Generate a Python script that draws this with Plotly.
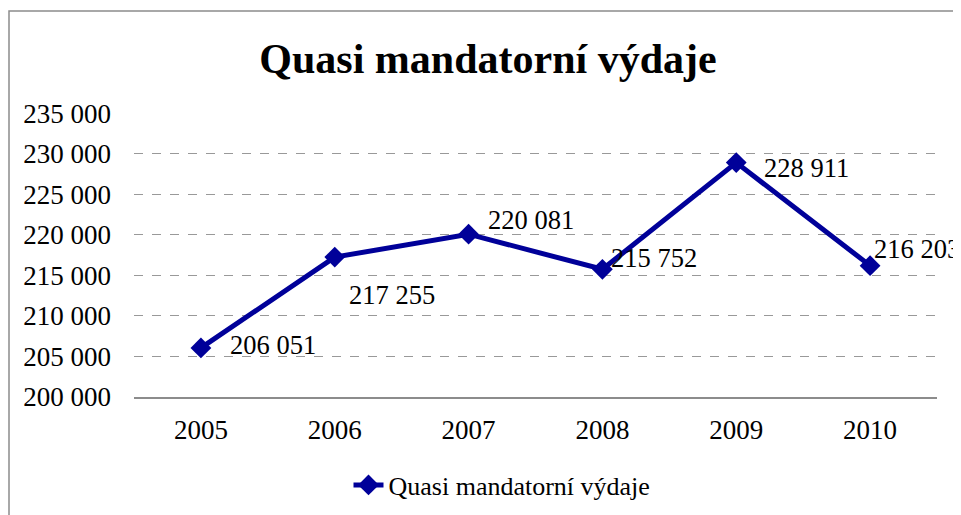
import plotly.graph_objects as go

years = ["2005", "2006", "2007", "2008", "2009", "2010"]
values = [206051, 217255, 220081, 215752, 228911, 216203]
labels = ["206 051", "217 255", "220 081", "215 752", "228 911", "216 203"]
series_name = "Quasi mandatorní výdaje"
title_text = "Quasi mandatorní výdaje"

# label offsets (px) – styling only
label_dx = [27, 12, 17, 7, 26, 2]
label_dy = [3, -38, 14, 11, -5, 17]

FONT = "Liberation Serif"
NAVY = "#000099"
OFF = 8  # page body margin
W, H = 961 - OFF, 515 - OFF
PL, PR, PT, PB = 134 - OFF, 937 - OFF, 113 - OFF, 397 - OFF

fig = go.Figure()
fig.add_trace(go.Scatter(
    x=years, y=values, mode="lines+markers", name=series_name,
    line=dict(color=NAVY, width=5),
    marker=dict(symbol="diamond", size=16, color=NAVY),
))

for i, (y, t, dx, dy) in enumerate(zip(values, labels, label_dx, label_dy)):
    fig.add_annotation(x=i, y=y, text=t, showarrow=False, xanchor="left",
                       yanchor="middle", xshift=dx, yshift=dy,
                       font=dict(family=FONT, size=26.5, color="black"))

pw, ph = PR - PL, PB - PT
# chart border
fig.add_shape(type="rect", xref="paper", yref="paper",
              x0=(1 - PL) / pw, x1=1.2, y0=-0.6, y1=(PB - 3) / ph,
              line=dict(color="#8c8c8c", width=1.5), layer="below")

fig.update_layout(
    width=W, height=H,
    margin=dict(l=PL, r=W - PR, t=PT, b=H - PB, autoexpand=False),
    paper_bgcolor="white", plot_bgcolor="white",
    separators=", ",
    title=dict(text="<b>" + title_text + "</b>", x=(488 - OFF) / W, xanchor="center",
               y=1 - (58 - OFF) / H, yanchor="middle", yref="container",
               font=dict(family=FONT, size=42, color="black")),
    font=dict(family=FONT, color="black"),
    showlegend=True,
    legend=dict(orientation="h", x=(502 - 134) / pw, xanchor="center",
                y=(397 - 485) / ph, yanchor="middle",
                font=dict(family=FONT, size=26, color="black")),
    xaxis=dict(type="category", range=[-0.5, 5.5], showgrid=False, showline=True,
               linecolor="#8c8c8c", linewidth=1.5, ticks="",
               tickfont=dict(family=FONT, size=27, color="black"),
               ticklabelstandoff=8),
    yaxis=dict(range=[200000, 235030], dtick=5000, tickformat=",d",
               showgrid=True, gridcolor="#999999", griddash="dash", gridwidth=1,
               zeroline=False, showline=False, ticks="",
               tickfont=dict(family=FONT, size=27, color="black"),
               ticklabelstandoff=22),
)

fig.write_html("out.html")
